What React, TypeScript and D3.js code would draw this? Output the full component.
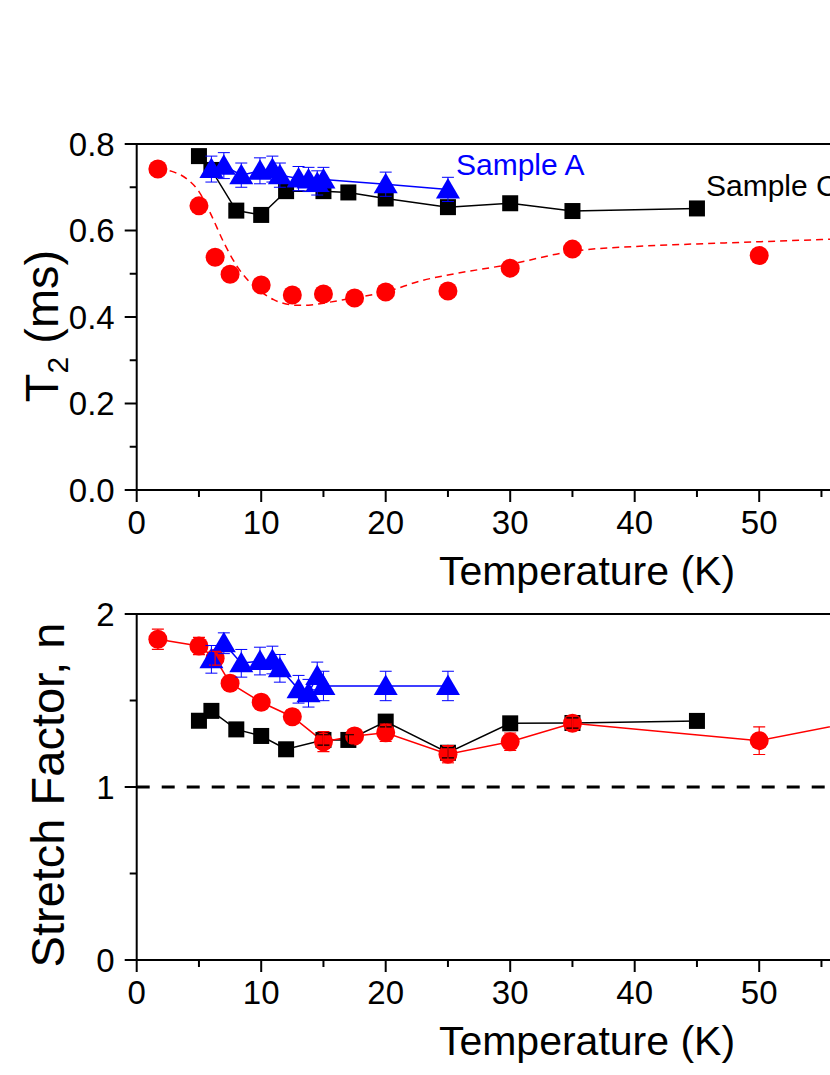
import React from "react";
import * as d3 from "d3";

// ---------- Data ----------
// Top panel: T2 (ms)
const T2_C_T = [5, 6, 8, 10, 12, 15, 17, 20, 25, 30, 35, 45];
const T2_C_V = [0.772, 0.74, 0.646, 0.636, 0.691, 0.691, 0.688, 0.674, 0.654, 0.663, 0.645, 0.651];

const T2_A_T = [6, 7, 8.4, 9.9, 10.9, 11.5, 13, 13.8, 14.5, 15, 20, 25];
const T2_A_V = [0.742, 0.75, 0.728, 0.738, 0.742, 0.728, 0.72, 0.718, 0.71, 0.718, 0.707, 0.695];
const T2_A_ERR = [0.03, 0.03, 0.028, 0.03, 0.03, 0.028, 0.028, 0.028, 0.028, 0.028, 0.028, 0.028];

const T2_B_T = [1.7, 5, 6.3, 7.5, 10, 12.5, 15, 17.5, 20, 25, 30, 35, 50];
const T2_B_V = [0.742, 0.657, 0.538, 0.499, 0.474, 0.451, 0.453, 0.444, 0.458, 0.46, 0.513, 0.557, 0.542];

const FIT_T = [1.7, 3, 4, 5, 6, 7, 8, 9, 10, 11, 12, 13, 14, 15, 17, 20, 23, 25, 30, 35, 40, 45, 50, 55, 60];
const FIT_V = [0.742, 0.735, 0.72, 0.69, 0.635, 0.572, 0.52, 0.483, 0.458, 0.44, 0.43, 0.427, 0.428, 0.432, 0.442, 0.458, 0.485, 0.497, 0.522, 0.552, 0.563, 0.569, 0.574, 0.579, 0.584];

// Bottom panel: stretch factor n
const N_C_T = [5, 6, 8, 10, 12, 15, 17, 20, 25, 30, 35, 45];
const N_C_V = [1.383, 1.44, 1.333, 1.295, 1.218, 1.272, 1.272, 1.378, 1.198, 1.368, 1.37, 1.382];
const N_C_ERR = [0.03, 0.03, 0.03, 0.03, 0.03, 0.03, 0.03, 0.03, 0.03, 0.03, 0.03, 0.03];

const N_B_T = [1.7, 5, 6.3, 7.5, 10, 12.5, 15, 17.5, 20, 25, 30, 35, 50, 60];
const N_B_V = [1.854, 1.815, 1.744, 1.6, 1.49, 1.406, 1.262, 1.295, 1.314, 1.19, 1.262, 1.368, 1.268, 1.41];
const N_B_ERR = [0.058, 0.05, 0.04, 0.04, 0.04, 0.04, 0.058, 0.04, 0.05, 0.05, 0.05, 0.04, 0.08, 0.06];

const N_A_T = [6, 7, 8.4, 9.9, 10.9, 11.5, 13, 13.8, 14.5, 15, 20, 25];
const N_A_V = [1.738, 1.831, 1.715, 1.728, 1.734, 1.686, 1.565, 1.542, 1.642, 1.584, 1.584, 1.584];
const N_A_ERR = [0.08, 0.06, 0.08, 0.08, 0.08, 0.08, 0.08, 0.08, 0.08, 0.085, 0.085, 0.085];

const X_TICKS = [0, 10, 20, 30, 40, 50, 60, 70];
const X_MINOR = [5, 15, 25, 35, 45, 55, 65];
const T2_TICKS = [0, 0.2, 0.4, 0.6, 0.8];
const T2_MINOR = [0.1, 0.3, 0.5, 0.7];
const N_TICKS = [0, 1, 2];
const N_MINOR = [0.5, 1.5];

const FONT = "'Liberation Sans', Arial, Helvetica, sans-serif";
const BLACK = "#000000";
const RED = "#ff0000";
const BLUE = "#0000ff";

const W = 830;
const H = 1075;
const LEFT = 136.7;
const X_MAX = 72.3;

type Pt = { t: number; v: number; e?: number };
const zip = (ts: number[], vs: number[], es?: number[]): Pt[] =>
  ts.map((t, i) => ({ t, v: vs[i], e: es ? es[i] : undefined }));

function Panel({
  top,
  bottom,
  yDomain,
  yTicks,
  yMinor,
  yFmt,
  yTitle,
  yTitleX,
  yTitleY,
  children,
}: {
  top: number;
  bottom: number;
  yDomain: [number, number];
  yTicks: number[];
  yMinor: number[];
  yFmt: (v: number) => string;
  yTitle: React.ReactNode;
  yTitleX: number;
  yTitleY: number;
  children: (x: d3.ScaleLinear<number, number>, y: d3.ScaleLinear<number, number>) => React.ReactNode;
}) {
  const x = d3.scaleLinear().domain([0, X_MAX]).range([LEFT, LEFT + X_MAX * 12.45]);
  const y = d3.scaleLinear().domain(yDomain).range([bottom, top]);
  const right = x.range()[1];
  return (
    <g>
      <defs>
        <clipPath id={`clip-${top}`}>
          <rect x={LEFT} y={top} width={right - LEFT} height={bottom - top} />
        </clipPath>
      </defs>
      <g clipPath={`url(#clip-${top})`}>{children(x, y)}</g>
      {/* frame */}
      <rect x={LEFT} y={top} width={right - LEFT} height={bottom - top} fill="none" stroke="#000" strokeWidth={2} />
      {/* x ticks */}
      {X_TICKS.map((t) => (
        <g key={`xt${t}`}>
          <line x1={x(t)} x2={x(t)} y1={bottom} y2={bottom + 12} stroke="#000" strokeWidth={2} />
          <text x={x(t)} y={bottom + 44} textAnchor="middle" fontSize={33} fontFamily={FONT}>
            {t}
          </text>
        </g>
      ))}
      {X_MINOR.map((t) => (
        <line key={`xm${t}`} x1={x(t)} x2={x(t)} y1={bottom} y2={bottom + 7} stroke="#000" strokeWidth={2} />
      ))}
      {/* y ticks */}
      {yTicks.map((v) => (
        <g key={`yt${v}`}>
          <line x1={LEFT - 12} x2={LEFT} y1={y(v)} y2={y(v)} stroke="#000" strokeWidth={2} />
          <text x={LEFT - 22} y={y(v)} dy="0.36em" textAnchor="end" fontSize={33} fontFamily={FONT}>
            {yFmt(v)}
          </text>
        </g>
      ))}
      {yMinor.map((v) => (
        <line key={`ym${v}`} x1={LEFT - 7} x2={LEFT} y1={y(v)} y2={y(v)} stroke="#000" strokeWidth={2} />
      ))}
      {/* axis titles */}
      <text x={587} y={bottom + 95} textAnchor="middle" fontSize={41} fontFamily={FONT}>
        Temperature (K)
      </text>
      <text
        transform={`translate(${yTitleX},${yTitleY}) rotate(-90)`}
        textAnchor="middle"
        fontSize={47}
        fontFamily={FONT}
      >
        {yTitle}
      </text>
    </g>
  );
}

function ErrorBars({ data, x, y, color, width = 1.2 }: { data: Pt[]; x: any; y: any; color: string; width?: number }) {
  return (
    <g stroke={color} strokeWidth={width} fill="none">
      {data.map((d, i) =>
        d.e === undefined ? null : (
          <g key={i}>
            <line x1={x(d.t)} x2={x(d.t)} y1={y(d.v - d.e)} y2={y(d.v + d.e)} />
            <line x1={x(d.t) - 6} x2={x(d.t) + 6} y1={y(d.v - d.e)} y2={y(d.v - d.e)} />
            <line x1={x(d.t) - 6} x2={x(d.t) + 6} y1={y(d.v + d.e)} y2={y(d.v + d.e)} />
          </g>
        )
      )}
    </g>
  );
}

const triPath = (cx: number, cy: number) =>
  `M${cx},${cy - 11.5}L${cx + 12},${cy + 9}L${cx - 12},${cy + 9}Z`;

function Squares({ data, x, y }: { data: Pt[]; x: any; y: any }) {
  return (
    <g fill={BLACK}>
      {data.map((d, i) => (
        <rect key={i} x={x(d.t) - 8} y={y(d.v) - 8} width={16} height={16} />
      ))}
    </g>
  );
}
function Circles({ data, x, y }: { data: Pt[]; x: any; y: any }) {
  return (
    <g fill={RED}>
      {data.map((d, i) => (
        <circle key={i} cx={x(d.t)} cy={y(d.v)} r={9.5} />
      ))}
    </g>
  );
}
function Triangles({ data, x, y }: { data: Pt[]; x: any; y: any }) {
  return (
    <g fill={BLUE}>
      {data.map((d, i) => (
        <path key={i} d={triPath(x(d.t), y(d.v))} />
      ))}
    </g>
  );
}

export default function App() {
  const topC = zip(T2_C_T, T2_C_V);
  const topA = zip(T2_A_T, T2_A_V, T2_A_ERR);
  const topB = zip(T2_B_T, T2_B_V);
  const fit = zip(FIT_T, FIT_V);
  const botC = zip(N_C_T, N_C_V, N_C_ERR);
  const botB = zip(N_B_T, N_B_V, N_B_ERR);
  const botA = zip(N_A_T, N_A_V, N_A_ERR);

  const mkLine = (x: any, y: any) =>
    d3
      .line<Pt>()
      .x((d) => x(d.t))
      .y((d) => y(d.v));
  const mkCurve = (x: any, y: any) =>
    d3
      .line<Pt>()
      .x((d) => x(d.t))
      .y((d) => y(d.v))
      .curve(d3.curveMonotoneX);

  return (
    <svg
      width={W}
      height={H}
      style={{ position: "absolute", left: 0, top: 0, background: "#fff" }}
      xmlns="http://www.w3.org/2000/svg"
    >
      <rect x={0} y={0} width={W} height={H} fill="#fff" />
      <Panel
        top={144}
        bottom={490}
        yDomain={[0, 0.8]}
        yTicks={T2_TICKS}
        yMinor={T2_MINOR}
        yFmt={d3.format(".1f")}
        yTitleX={58}
        yTitleY={326}
        yTitle={
          <>
            <tspan>T</tspan>
            <tspan fontSize={30} dy={10}>2</tspan>
            <tspan dy={-10}> (ms)</tspan>
          </>
        }
      >
        {(x, y) => (
          <g>
            <path d={mkCurve(x, y)(fit) || ""} fill="none" stroke={RED} strokeWidth={1.5} strokeDasharray="7,5" />
            <path d={mkLine(x, y)(topC) || ""} fill="none" stroke={BLACK} strokeWidth={1.5} />
            <path d={mkLine(x, y)(topA) || ""} fill="none" stroke={BLUE} strokeWidth={1.5} />
            <Squares data={topC} x={x} y={y} />
            <Circles data={topB} x={x} y={y} />
            <Triangles data={topA} x={x} y={y} />
            <ErrorBars data={topA} x={x} y={y} color={BLUE} width={1} />
            <text x={456} y={175} fontSize={30} fontFamily={FONT} fill={BLUE}>
              Sample A
            </text>
            <text x={706} y={196} fontSize={30} fontFamily={FONT} fill={BLACK}>
              Sample C
            </text>
          </g>
        )}
      </Panel>
      <Panel
        top={614}
        bottom={960}
        yDomain={[0, 2]}
        yTicks={N_TICKS}
        yMinor={N_MINOR}
        yFmt={d3.format("d")}
        yTitleX={64}
        yTitleY={795}
        yTitle={<tspan>Stretch Factor, n</tspan>}
      >
        {(x, y) => (
          <g>
            <line x1={x(0)} x2={x(X_MAX)} y1={y(1)} y2={y(1)} stroke={BLACK} strokeWidth={3} strokeDasharray="13,12" />
            <path d={mkLine(x, y)(botC) || ""} fill="none" stroke={BLACK} strokeWidth={1.5} />
            <path d={mkLine(x, y)(botB) || ""} fill="none" stroke={RED} strokeWidth={1.5} />
            <path d={mkLine(x, y)(botA) || ""} fill="none" stroke={BLUE} strokeWidth={1.5} />
            <Squares data={botC} x={x} y={y} />
            <Circles data={botB} x={x} y={y} />
            <Triangles data={botA} x={x} y={y} />
            <ErrorBars data={botC} x={x} y={y} color={BLACK} />
            <ErrorBars data={botB} x={x} y={y} color={RED} />
            <ErrorBars data={botA} x={x} y={y} color={BLUE} width={1} />
          </g>
        )}
      </Panel>
    </svg>
  );
}
